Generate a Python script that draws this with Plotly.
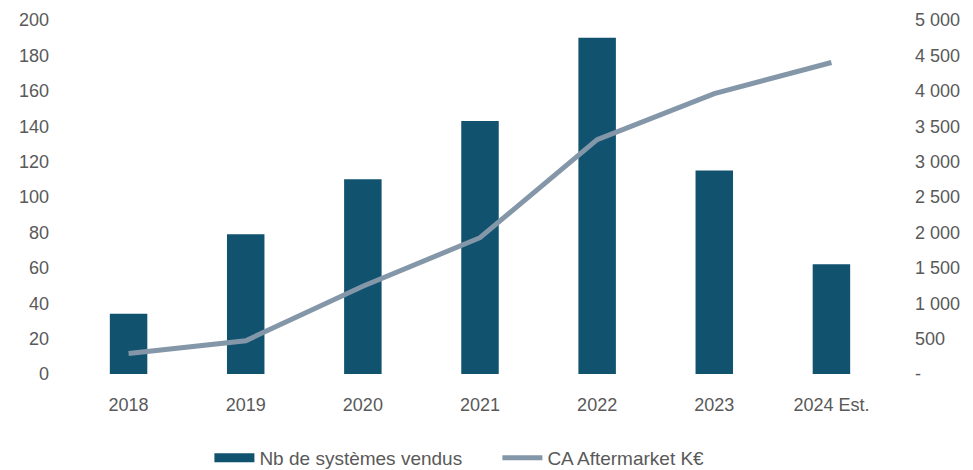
import plotly.graph_objects as go

years = ["2018", "2019", "2020", "2021", "2022", "2023", "2024 Est."]
nb_systemes = [34, 79, 110, 143, 190, 115, 62]
ca_aftermarket = [290, 470, 1240, 1925, 3310, 3960, 4400]

right_tickvals = [0, 500, 1000, 1500, 2000, 2500, 3000, 3500, 4000, 4500, 5000]
right_ticktext = ["-", "500", "1 000", "1 500", "2 000", "2 500", "3 000", "3 500", "4 000", "4 500", "5 000"]

font_family = "Liberation Sans, Arial, sans-serif"
grey = "#595959"
bar_color = "#11526F"
line_color = "#8497A9"

fig = go.Figure()
fig.add_trace(go.Bar(
    x=years, y=nb_systemes, name="Nb de systèmes vendus",
    marker=dict(color=bar_color, line=dict(width=0)),
    yaxis="y", showlegend=False,
))
# legend-only entry giving the bar series a wide rectangular swatch
fig.add_trace(go.Scatter(
    x=[None], y=[None], name="Nb de systèmes vendus",
    mode="lines", line=dict(color=bar_color, width=9),
    yaxis="y", hoverinfo="skip",
))
fig.add_trace(go.Scatter(
    x=years, y=ca_aftermarket, name="CA Aftermarket K€",
    mode="lines", line=dict(color=line_color, width=5),
    yaxis="y2",
))

fig.update_layout(
    width=965, height=462,
    margin=dict(l=62, r=83, t=12, b=96, autoexpand=False),
    plot_bgcolor="white", paper_bgcolor="white",
    font=dict(family=font_family, size=18, color=grey),
    bargap=0.68,
    showlegend=True,
    legend=dict(orientation="h", x=0.17, xanchor="left", y=-0.237, yanchor="middle",
                font=dict(size=19, color=grey), itemwidth=40, traceorder="normal",
                entrywidth=233),
    xaxis=dict(showgrid=False, showline=False, zeroline=False, ticks="",
               tickfont=dict(size=18, color=grey), ticklabelstandoff=18, automargin=False),
    yaxis=dict(range=[0, 200], dtick=20, showgrid=False, showline=False, zeroline=False,
               ticks="", tickfont=dict(size=18, color=grey), ticklabelstandoff=20,
               automargin=False),
    yaxis2=dict(range=[0, 5000], overlaying="y", side="right", tickvals=right_tickvals,
                ticktext=right_ticktext, showgrid=False, showline=False, zeroline=False,
                ticks="", tickfont=dict(size=18, color=grey), ticklabelstandoff=24,
                automargin=False),
)

fig.write_html("out.html")
